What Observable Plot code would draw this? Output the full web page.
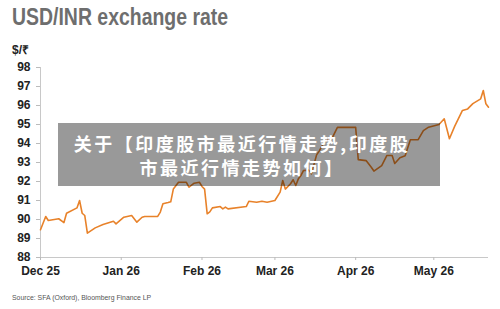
<!DOCTYPE html>
<html><head><meta charset="utf-8">
<script src="https://cdn.jsdelivr.net/npm/d3@7"></script>
<script src="https://cdn.jsdelivr.net/npm/@observablehq/plot@0.6"></script>
<style>
body{margin:0;background:#fff;}
#wrap{position:relative;width:500px;height:309px;overflow:hidden;font-family:"Liberation Sans",Arial,sans-serif;}
#title{position:absolute;left:12px;top:3px;font-family:"Liberation Sans","DejaVu Sans Condensed",sans-serif;font-weight:bold;font-size:24px;color:#6e6e6e;white-space:nowrap;transform:scaleX(0.81);transform-origin:0 0;}
#unit{position:absolute;left:12px;top:41px;font-weight:bold;font-size:12px;color:#222;}
#chart{position:absolute;left:0;top:55px;}
#source{position:absolute;left:12px;top:293px;font-family:"Liberation Sans",sans-serif;font-size:8px;color:#555;white-space:nowrap;transform:scaleX(0.86);transform-origin:0 0;}
#overlay{position:absolute;left:58px;top:123px;width:382px;height:63px;background:rgba(0,0,0,0.4);color:#fff;font-family:"Noto Sans CJK SC",sans-serif;font-weight:bold;font-size:18px;line-height:24px;text-align:center;display:flex;align-items:center;justify-content:center;box-sizing:border-box;padding-right:14px;letter-spacing:2.5px;}
</style></head>
<body>
<div id="wrap">
  <div id="title">USD/INR exchange rate</div>
  <div id="unit">$/₹</div>
  <div id="chart"></div>
  <div id="source">Source: SFA (Oxford), Bloomberg Finance LP</div>
  <div id="overlay"><div>关于【印度股市最近行情走势,印度股<br>市最近行情走势如何】</div></div>
</div>
<script>
const dates = ["2025-12-01","2025-12-03","2025-12-04","2025-12-08","2025-12-10","2025-12-11","2025-12-15","2025-12-16","2025-12-17","2025-12-18","2025-12-19","2025-12-22","2025-12-25","2025-12-29","2025-12-30",
"2026-01-02","2026-01-05","2026-01-07","2026-01-09","2026-01-10","2026-01-15","2026-01-16","2026-01-17","2026-01-19","2026-01-20","2026-01-21","2026-01-23","2026-01-26","2026-01-27","2026-01-29","2026-01-31",
"2026-02-01","2026-02-02","2026-02-03","2026-02-04","2026-02-05","2026-02-08","2026-02-09","2026-02-10","2026-02-11","2026-02-18","2026-02-19","2026-02-22","2026-02-24","2026-02-26",
"2026-03-01","2026-03-03","2026-03-04","2026-03-05","2026-03-07","2026-03-08","2026-03-09","2026-03-10","2026-03-11","2026-03-12","2026-03-14","2026-03-15","2026-03-17","2026-03-18","2026-03-20","2026-03-23","2026-03-25",
"2026-04-01","2026-04-02","2026-04-05","2026-04-07","2026-04-08","2026-04-11","2026-04-13","2026-04-15","2026-04-16","2026-04-18","2026-04-20","2026-04-22","2026-04-25","2026-04-27","2026-04-29",
"2026-05-03","2026-05-05","2026-05-07","2026-05-09","2026-05-12","2026-05-14","2026-05-16","2026-05-19","2026-05-20","2026-05-21","2026-05-22"];
const values = [89.46,90.16,89.95,90.04,89.84,90.33,90.61,91.00,90.33,90.21,89.28,89.56,89.74,89.91,89.77,
90.12,90.21,89.86,90.12,90.16,90.16,90.39,90.83,90.89,90.93,91.60,91.96,91.96,91.70,91.91,91.96,
91.74,91.60,90.30,90.40,90.61,90.68,90.56,90.65,90.56,90.68,90.96,90.91,90.96,90.91,
91.00,91.44,92.05,91.60,91.88,92.09,91.79,92.14,92.32,92.58,92.60,92.40,93.40,93.60,94.10,94.30,94.85,
94.85,93.15,93.10,92.75,92.55,92.84,93.37,93.37,92.95,93.25,93.35,94.20,94.20,94.68,94.86,
95.00,95.30,94.25,94.90,95.74,95.82,96.10,96.35,96.79,96.09,95.91];
const monthTicks = ["2025-12-01","2026-01-01","2026-02-01","2026-03-01","2026-04-01","2026-05-01"];
const yTicks = [88,89,90,91,92,93,94,95,96,97,98];
const xDomain = ["2025-12-01","2026-05-22"];

const parse = s => new Date(s + "T00:00:00Z");
const data = dates.map((d, i) => ({date: parse(d), value: values[i]}));
const start = parse(xDomain[0]);

const chart = Plot.plot({
  width: 500, height: 230,
  marginLeft: 40, marginRight: 12, marginTop: 12, marginBottom: 28,
  style: {fontFamily: "'Liberation Sans', Arial, sans-serif", fontSize: "12px", background: "transparent", color: "#222"},
  x: {type: "utc", domain: xDomain.map(parse)},
  y: {domain: [88, 98]},
  marks: [
    Plot.ruleY([88], {stroke: "#c8c8c8", strokeWidth: 1}),
    Plot.ruleX([start], {stroke: "#c8c8c8", strokeWidth: 1}),
    Plot.axisX({ticks: monthTicks.map(parse), tickFormat: d3.utcFormat("%b %y"), tickSize: 3, tickPadding: 6, stroke: "#bbb", fill: "#222", fontWeight: "bold", label: null}),
    Plot.axisY({ticks: yTicks, tickSize: 4, tickPadding: 6, stroke: "#bbb", fill: "#222", fontWeight: "bold", label: null}),
    Plot.lineY(data, {x: "date", y: "value", stroke: "#e8822a", strokeWidth: 1.6})
  ]
});
document.getElementById("chart").appendChild(chart);
</script>
</body></html>
